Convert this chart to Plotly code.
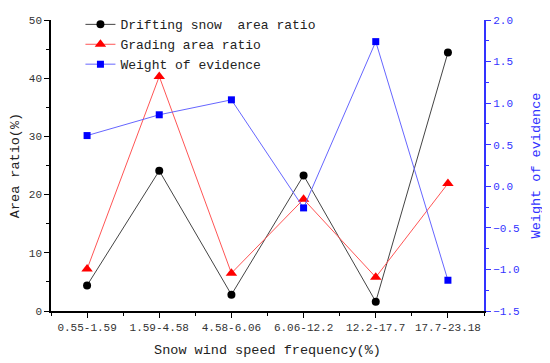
import plotly.graph_objects as go

categories = ["0.55-1.59", "1.59-4.58", "4.58-6.06", "6.06-12.2", "12.2-17.7", "17.7-23.18"]
drifting_snow_area_ratio = [4.4, 24.1, 2.8, 23.3, 1.6, 44.4]
grading_area_ratio = [7.2, 40.3, 6.5, 19.2, 5.8, 21.9]
weight_of_evidence = [0.61, 0.86, 1.04, -0.26, 1.74, -1.13]

FONT = "Liberation Mono, Courier New, monospace"
x = list(range(len(categories)))

fig = go.Figure()
fig.add_trace(go.Scatter(
    x=x, y=drifting_snow_area_ratio, name="Drifting snow  area ratio",
    mode="lines+markers", line=dict(color="#444444", width=1),
    marker=dict(symbol="circle", size=8, color="black"), yaxis="y"))
fig.add_trace(go.Scatter(
    x=x, y=grading_area_ratio, name="Grading area ratio",
    mode="lines+markers", line=dict(color="#ff5555", width=1),
    marker=dict(symbol="triangle-up", size=10, color="red"), yaxis="y"))
fig.add_trace(go.Scatter(
    x=x, y=weight_of_evidence, name="Weight of evidence",
    mode="lines+markers", line=dict(color="#6666ff", width=1),
    marker=dict(symbol="square", size=7, color="blue"), yaxis="y2"))

# page body adds an 8px margin, so the figure is 8px smaller and offset accordingly
fig.update_layout(
    width=542, height=355,
    margin=dict(l=43, r=66, t=12, b=52, autoexpand=False),
    paper_bgcolor="white", plot_bgcolor="white",
    font=dict(family=FONT, size=11, color="#333333"),
    showlegend=True,
    legend=dict(x=0.068, y=0.996, xanchor="left", yanchor="top", yref="container",
                bgcolor="rgba(0,0,0,0)", font=dict(size=13, color="#222222"),
                tracegroupgap=0, itemwidth=30),
    xaxis=dict(
        range=[-0.5, 5.5], tickmode="array", tickvals=x, ticktext=categories,
        showgrid=False, zeroline=False, showline=True, linecolor="black", linewidth=1.5,
        ticks="outside", ticklen=5, tickcolor="black", automargin=False,
        minor=dict(ticks="outside", ticklen=3, tickcolor="black", tick0=0.5, dtick=1),
        tickfont=dict(size=11, color="#333333"),
        title=dict(text="Snow wind speed frequency(%)", font=dict(size=13.5, color="#222222"), standoff=12),
    ),
    yaxis=dict(
        range=[0, 50], dtick=10, showgrid=False, zeroline=False,
        showline=True, linecolor="black", linewidth=1.5, automargin=False,
        ticks="outside", ticklen=5, tickcolor="black",
        minor=dict(ticks="outside", ticklen=3, tickcolor="black", dtick=5),
        tickfont=dict(size=11, color="#333333"),
        title=dict(text="Area ratio(%)", font=dict(size=13.5, color="#222222"), standoff=9),
    ),
    yaxis2=dict(
        range=[-1.5, 2.0], dtick=0.5, tickformat=".1f", overlaying="y", side="right",
        showgrid=False, zeroline=False, showline=True, linecolor="#3333ff", linewidth=2,
        ticks="outside", ticklen=5, tickcolor="#3333ff", automargin=False,
        minor=dict(ticks="outside", ticklen=3, tickcolor="#3333ff", dtick=0.25),
        tickfont=dict(size=11, color="#3333ff"),
        title=dict(text="Weight of evidence", font=dict(size=13.5, color="#3333ff"), standoff=12),
    ),
)

fig.write_html("out.html")
